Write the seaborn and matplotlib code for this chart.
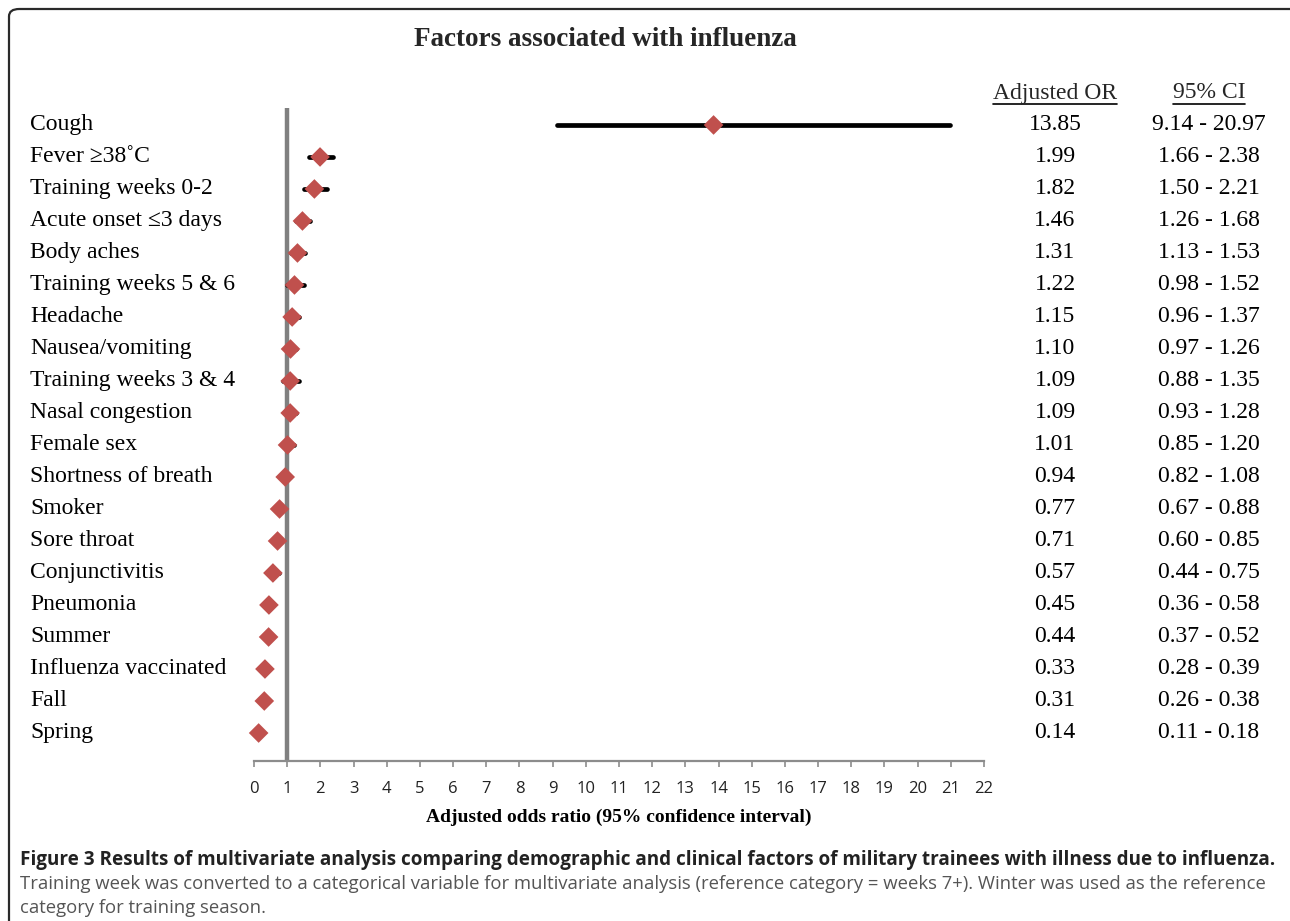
import numpy as np
import pandas as pd
import matplotlib
matplotlib.use("Agg")
import matplotlib.pyplot as plt
import seaborn as sns
from matplotlib.transforms import blended_transform_factory
from matplotlib.patches import FancyBboxPatch
from matplotlib.lines import Line2D

# ---- data -------------------------------------------------------------
factors = [
    "Cough", "Fever \u226538\u02daC", "Training weeks 0-2", "Acute onset \u22643 days",
    "Body aches", "Training weeks 5 & 6", "Headache", "Nausea/vomiting",
    "Training weeks 3 & 4", "Nasal congestion", "Female sex",
    "Shortness of breath", "Smoker", "Sore throat", "Conjunctivitis",
    "Pneumonia", "Summer", "Influenza vaccinated", "Fall", "Spring",
]
odds_ratio = [13.85, 1.99, 1.82, 1.46, 1.31, 1.22, 1.15, 1.10, 1.09, 1.09,
              1.01, 0.94, 0.77, 0.71, 0.57, 0.45, 0.44, 0.33, 0.31, 0.14]
ci_low = [9.14, 1.66, 1.50, 1.26, 1.13, 0.98, 0.96, 0.97, 0.88, 0.93,
          0.85, 0.82, 0.67, 0.60, 0.44, 0.36, 0.37, 0.28, 0.26, 0.11]
ci_high = [20.97, 2.38, 2.21, 1.68, 1.53, 1.52, 1.37, 1.26, 1.35, 1.28,
           1.20, 1.08, 0.88, 0.85, 0.75, 0.58, 0.52, 0.39, 0.38, 0.18]
x_ticks = list(range(0, 23))

df = pd.DataFrame({"factor": factors, "or": odds_ratio,
                   "lo": ci_low, "hi": ci_high})
df["row"] = np.arange(len(df))

# ---- figure -----------------------------------------------------------
W, H = 1290, 921
sns.set_theme(style="white")
plt.rcParams["font.family"] = ["Liberation Serif", "DejaVu Serif"]

fig = plt.figure(figsize=(W / 100, H / 100), dpi=100)
fig.patch.set_facecolor("white")

def fx(px):
    return px / W

def fy(py):
    return 1 - py / H

ax_left, ax_right, ax_top, ax_bottom = 254, 984, 108, 761
ax = fig.add_axes([fx(ax_left), fy(ax_bottom),
                   fx(ax_right - ax_left), (ax_bottom - ax_top) / H])

n = len(df)
ax.set_xlim(0, 22)
ax.set_ylim(n - 1 + 0.875, -0.53)

# reference line at OR = 1
ax.axvline(1, color="#808080", lw=3.2, zorder=1)

# confidence intervals
ax.hlines(df["row"], df["lo"], df["hi"], color="black", lw=3.4,
          capstyle="round", zorder=2)

# point estimates
sns.scatterplot(data=df, x="or", y="row", marker="D", s=100,
                color="#C0504D", edgecolor="none", ax=ax, zorder=3,
                legend=False, clip_on=False)

# axes styling
for side in ["left", "right", "top"]:
    ax.spines[side].set_visible(False)
ax.spines["bottom"].set_color("#8c8c8c")
ax.spines["bottom"].set_linewidth(1.6)
ax.set_yticks([])
ax.set_xticks(x_ticks)
ax.set_xticklabels([str(t) for t in x_ticks], fontfamily=["Open Sans", "DejaVu Sans"],
                   fontsize=12, color="#222222")
ax.tick_params(axis="x", direction="out", length=4.5, width=1.2,
               color="#8c8c8c", pad=10, bottom=True)
ax.set_xlabel("Adjusted odds ratio (95% confidence interval)",
              fontsize=14, fontweight="bold", labelpad=8, color="black")
ax.set_ylabel("")

# factor labels and table columns, aligned to the rows
tr = blended_transform_factory(fig.transFigure, ax.transData)
text_kw = dict(fontsize=17, color="black", va="center")
for _, r in df.iterrows():
    ax.text(fx(30), r["row"], r["factor"], transform=tr, ha="left",
            clip_on=False, **text_kw)
    ax.text(fx(1055), r["row"], f"{r['or']:.2f}", transform=tr, ha="center",
            clip_on=False, **text_kw)
    ax.text(fx(1209), r["row"], f"{r['lo']:.2f} - {r['hi']:.2f}", transform=tr,
            ha="center", clip_on=False, **text_kw)

# underlined column headers
renderer = fig.canvas.get_renderer()
for xc, label in [(1055, "Adjusted OR"), (1209, "95% CI")]:
    t = fig.text(fx(xc), fy(93), label, ha="center", va="center", fontsize=17)
    bb = t.get_window_extent(renderer=renderer)
    x0, x1 = bb.x0 / W, bb.x1 / W
    yline = (bb.y0 - 1) / H
    fig.add_artist(Line2D([x0, x1], [yline, yline], transform=fig.transFigure,
                          color="black", lw=1.2))

# title
fig.text(fx(605), fy(40), "Factors associated with influenza", ha="center",
         va="center", fontsize=19.5, fontweight="bold")

# caption
cap_family = ["Open Sans", "DejaVu Sans"]
fig.text(fx(20), fy(860),
         "Figure 3 Results of multivariate analysis comparing demographic and "
         "clinical factors of military trainees with illness due to influenza.",
         ha="left", va="center", fontsize=13.6, fontweight="bold",
         color="#222222", family=cap_family)
fig.text(fx(20), fy(884),
         "Training week was converted to a categorical variable for multivariate "
         "analysis (reference category = weeks 7+). Winter was used as the reference",
         ha="left", va="center", fontsize=13.3, color="#555555", family=cap_family)
fig.text(fx(20), fy(908), "category for training season.",
         ha="left", va="center", fontsize=13.3, color="#555555", family=cap_family)

# rounded frame
frame = FancyBboxPatch((fx(9), fy(960)), fx(1290 - 9 + 20), (960 - 9) / H,
                       boxstyle="round,pad=0,rounding_size=0.008",
                       transform=fig.transFigure, fill=False,
                       edgecolor="#2a2a2a", lw=1.6, clip_on=False)
fig.add_artist(frame)

fig.savefig("out.png", dpi=100)
